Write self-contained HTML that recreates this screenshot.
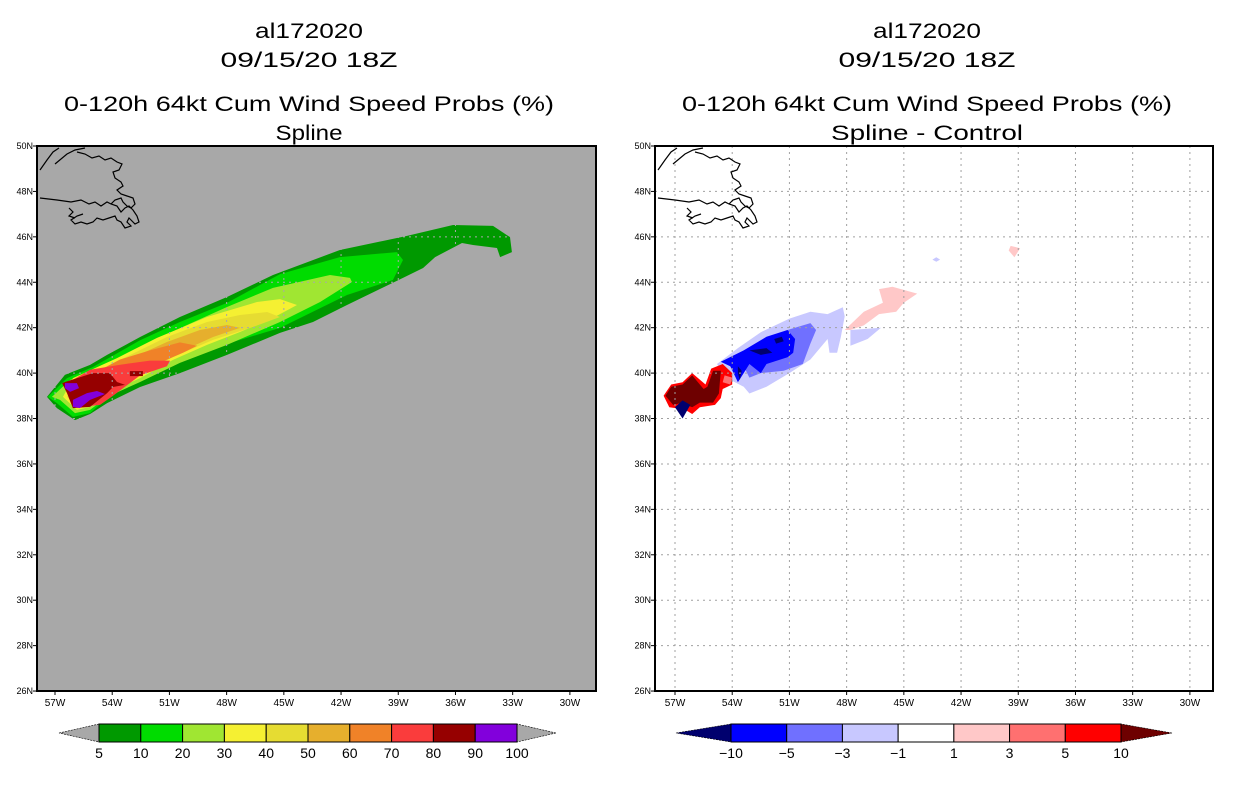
<!DOCTYPE html>
<html><head><meta charset="utf-8"><style>html,body{margin:0;padding:0;background:#fff}svg{display:block}</style></head>
<body>
<svg id="chart" xmlns="http://www.w3.org/2000/svg" width="1236" height="800" viewBox="0 0 1236 800" font-family="'Liberation Sans', sans-serif">
<defs>
<clipPath id="clipL"><rect x="37" y="146" width="559" height="545"/></clipPath>
<clipPath id="clipR"><rect x="655" y="146" width="558" height="545"/></clipPath>
</defs>
<g fill="#000" text-anchor="middle">
<text x="309" y="38" font-size="21" textLength="108" lengthAdjust="spacingAndGlyphs">al172020</text>
<text x="309" y="67" font-size="21" textLength="177" lengthAdjust="spacingAndGlyphs">09/15/20 18Z</text>
<text x="309" y="111" font-size="21" textLength="490" lengthAdjust="spacingAndGlyphs">0-120h 64kt Cum Wind Speed Probs (%)</text>
<text x="309" y="140" font-size="21" textLength="67" lengthAdjust="spacingAndGlyphs">Spline</text>
</g>
<g fill="#000" text-anchor="middle">
<text x="927" y="38" font-size="21" textLength="108" lengthAdjust="spacingAndGlyphs">al172020</text>
<text x="927" y="67" font-size="21" textLength="177" lengthAdjust="spacingAndGlyphs">09/15/20 18Z</text>
<text x="927" y="111" font-size="21" textLength="490" lengthAdjust="spacingAndGlyphs">0-120h 64kt Cum Wind Speed Probs (%)</text>
<text x="927" y="140" font-size="21" textLength="192" lengthAdjust="spacingAndGlyphs">Spline - Control</text>
</g>
<rect x="37" y="146" width="559" height="545" fill="#a8a8a8"/>
<rect x="655" y="146" width="558" height="545" fill="#ffffff"/>
<g id="gL" clip-path="url(#clipL)"></g>
<g id="gR" clip-path="url(#clipR)"></g>
<g id="axes"></g>
<g id="cbars"></g>
</svg>
<script>
const NS="http://www.w3.org/2000/svg";
const latTicks=[50,48,46,44,42,40,38,36,34,32,30,28,26];
const lonTicks=[57,54,51,48,45,42,39,36,33,30];
const probLevels=[5,10,20,30,40,50,60,70,80,90,100];
const probColors=["#009900","#00dc00","#a0e632","#f5f032","#e6dc32","#e6af2d","#f08228","#fa3c3c","#960000","#8200dc"];
const diffLevels=[-10,-5,-3,-1,1,3,5,10];
const diffColors=["#00006e","#0000ff","#7070ff","#c8c8ff","#ffffff","#ffc8c8","#ff7070","#ff0000","#6e0000"];
// left-panel contour polygons [lonW, lat]
const p5=[[57.42,38.95],[56.48,39.92],[55.16,40.36],[54.27,40.80],[52.54,41.59],[50.45,42.47],[47.98,43.35],[45.57,44.32],[42.06,45.42],[38.54,46.04],[36.13,46.52],[34.03,46.48],[33.14,45.99],[33.04,45.33],[33.66,45.11],[33.82,45.51],[35.08,45.64],[35.66,45.73],[37.07,45.11],[37.70,44.63],[38.75,44.19],[41.69,43.00],[43.47,42.25],[45.20,41.77],[47.98,40.80],[50.45,40.00],[52.54,39.39],[54.27,38.68],[55.16,38.20],[55.95,37.93],[56.90,38.46]];
const p10=[[57.37,38.95],[56.37,39.78],[55.01,40.27],[52.54,41.45],[50.45,42.25],[47.98,43.09],[45.20,44.36],[42.06,45.11],[39.07,45.33],[38.75,44.98],[39.28,44.10],[41.69,43.44],[45.20,41.99],[49.03,41.02],[52.54,39.70],[54.27,38.90],[55.16,38.24],[56.06,38.07],[56.90,38.68]];
const p20=[[57.16,38.95],[56.21,39.70],[54.80,40.14],[52.54,41.15],[50.08,42.12],[47.98,42.91],[45.57,43.75],[42.58,44.32],[41.53,44.19],[41.43,44.01],[43.10,43.13],[45.20,42.25],[47.98,41.24],[50.45,40.45],[52.54,39.61],[54.27,38.95],[55.16,38.38],[55.95,38.24],[56.74,38.82]];
const p30=[[56.58,38.95],[56.06,39.78],[53.75,40.66],[51.65,41.55],[49.03,42.47],[46.41,43.13],[45.20,43.26],[44.31,43.00],[45.57,42.43],[47.30,41.81],[49.03,41.24],[50.81,40.58],[52.54,39.78],[54.27,39.12],[55.16,38.51],[55.85,38.38]];
const p40=[[56.37,38.95],[55.95,39.56],[53.59,40.58],[51.13,41.59],[49.03,42.25],[47.30,42.56],[45.88,42.69],[45.20,42.47],[46.62,42.03],[48.71,41.46],[50.81,40.71],[52.54,39.92],[54.27,39.26],[55.16,38.68],[55.85,38.51]];
const p50=[[56.11,39.61],[53.43,40.49],[51.13,41.37],[49.40,41.90],[47.98,42.12],[47.30,41.99],[48.71,41.59],[50.45,40.93],[52.18,40.14],[53.96,39.39],[55.01,38.82],[55.85,38.68],[56.32,39.12]];
const p60=[[56.06,39.61],[54.50,40.20],[53.59,40.60],[52.02,41.00],[50.45,41.35],[49.55,41.20],[50.29,40.90],[51.65,40.40],[53.43,39.70],[54.64,38.95],[55.69,38.73],[56.21,39.17]];
const p70=[[56.06,39.70],[55.16,40.15],[53.75,40.35],[52.02,40.55],[50.97,40.55],[51.13,40.30],[52.54,39.90],[53.96,39.00],[54.64,38.60],[55.85,38.50],[56.32,39.10]];
const p80a=[[56.48,39.61],[55.01,40.00],[54.12,40.00],[53.75,39.61],[53.33,39.48],[53.96,39.39],[54.27,39.12],[55.16,38.51],[56.06,38.46],[56.37,39.12],[56.63,39.56]];
const p80b=[[53.07,40.09],[52.39,40.09],[52.39,39.87],[53.07,39.87]];
const p90a=[[56.48,39.56],[55.85,39.56],[55.74,39.34],[56.21,39.17],[56.48,39.34]];
const p90b=[[56.06,38.82],[55.32,39.12],[54.80,39.21],[54.38,39.08],[55.16,38.82],[55.69,38.46],[56.06,38.51]];
// right-panel difference polygons [lonW, lat]
const dNeg1=[[54.8,40.4],[53.7,41.1],[52.5,41.8],[51.0,42.4],[49.9,42.7],[49.0,42.6],[48.2,42.9],[48.1,42.5],[48.3,41.6],[48.5,40.9],[48.9,40.9],[49.0,41.5],[49.9,40.6],[51.0,40.0],[52.2,39.4],[53.1,39.1],[53.4,39.4],[54.1,39.7],[54.6,40.1]];
const dNeg1b=[[47.8,41.9],[46.2,42.0],[46.9,41.5],[47.8,41.2]];
const dNeg1c=[[43.3,45.1],[43.1,45.0],[43.3,44.9],[43.5,45.0]];
const dNeg3=[[54.6,40.5],[53.2,41.0],[51.7,41.7],[51.1,41.9],[49.9,42.2],[49.6,41.9],[49.9,41.3],[50.3,40.4],[51.3,40.1],[52.5,40.0],[53.1,39.8],[53.4,40.3],[54.1,40.3]];
const dNeg5=[[54.6,40.5],[53.4,41.0],[52.2,41.6],[51.1,41.9],[50.7,41.5],[50.8,40.9],[51.1,40.7],[52.2,40.4],[52.5,40.0],[53.1,40.4],[53.4,40.0],[53.7,39.6],[54.1,40.3]];
const dNeg10a=[[53.1,41.0],[52.2,41.1],[51.9,40.9],[52.5,40.8]];
const dNeg10b=[[51.8,41.5],[51.4,41.6],[51.3,41.4],[51.7,41.3]];
const dNeg10c=[[53.7,40.3],[53.5,40.1],[53.6,39.7],[53.7,40.0]];
const dNeg10d=[[57.0,38.5],[56.6,38.8],[56.2,38.6],[56.6,38.0]];
const dPos1=[[48.1,41.9],[47.1,42.7],[46.1,43.1],[46.3,43.7],[45.6,43.8],[44.3,43.5],[45.0,43.1],[45.4,42.7],[46.3,42.6],[47.1,42.1],[47.8,41.9]];
const dPos1b=[[39.4,45.6],[38.9,45.5],[39.2,45.1],[39.5,45.4]];
const dPos5=[[57.6,39.0],[57.2,39.5],[56.6,39.6],[56.1,40.0],[55.4,39.5],[55.1,40.2],[54.5,40.4],[54.0,40.0],[54.0,39.5],[54.5,39.3],[54.6,38.9],[54.9,38.6],[55.7,38.5],[56.1,38.2],[56.5,38.4],[57.3,38.5]];
const dPos3=[[54.4,39.9],[54.0,39.8],[54.1,39.5],[54.5,39.6]];
const dPos10=[[57.5,39.0],[57.2,39.4],[56.6,39.5],[56.1,39.9],[55.5,39.3],[55.3,39.4],[55.0,40.1],[54.6,40.1],[54.7,39.1],[55.0,38.7],[55.7,38.7],[56.1,38.5],[56.4,38.6],[56.6,38.7],[57.1,38.6]];

const PX=19.07, PY=22.71;
const xL=lon=>55+(57-lon)*PX;
const xR=lon=>675+(57-lon)*PX;
const yM=lat=>146+(50-lat)*PY;
function el(tag,attrs,parent){const e=document.createElementNS(NS,tag);for(const k in attrs)e.setAttribute(k,attrs[k]);parent.appendChild(e);return e;}
function poly(pts,fx,fill,parent,name){
  const p=el('polygon',{points:pts.map(q=>fx(q[0]).toFixed(1)+','+yM(q[1]).toFixed(1)).join(' '),fill:fill},parent);
  
  
}
const gL=document.getElementById('gL'), gR=document.getElementById('gR');
[[p5,0],[p10,1],[p20,2],[p30,3],[p40,4],[p50,5],[p60,6],[p70,7],[p80a,8],[p80b,8],[p90a,9],[p90b,9]].forEach(([pts,i])=>poly(pts,xL,probColors[i],gL,'prob-contour-'+probLevels[i]));
[[dNeg1,3],[dNeg1b,3],[dNeg1c,3],[dPos1,5],[dPos1b,5],[dNeg3,2],[dNeg5,1],[dNeg10a,0],[dNeg10b,0],[dNeg10c,0],[dPos5,7],[dPos3,6],[dPos10,8],[dNeg10d,0]].forEach(([pts,i])=>poly(pts,xR,diffColors[i],gR,'diff-contour-'+i));
function grid(g,fx,x0,x1,col){
  lonTicks.forEach(l=>{const ln=el('line',{x1:fx(l),x2:fx(l),y1:146,y2:691,stroke:col,'stroke-width':1,'stroke-dasharray':'2,4'},g);
    
    });
  latTicks.forEach(l=>{const ln=el('line',{x1:x0,x2:x1,y1:yM(l),y2:yM(l),stroke:col,'stroke-width':1,'stroke-dasharray':'2,4'},g);
    
    });
}
grid(gL,xL,37,596,'#a8a8a8');
grid(gR,xR,655,1213,'#a0a0a0');
const coast=[
 "M3,24 L10,14 L16,6 L22,2","M18,18 L30,8 L38,4 L48,2",
 "M40,6 L48,8 L55,12 L62,10 L68,14 L74,12 L80,16 L85,18 L82,24 L76,26 L78,32 L84,36 L86,40 L80,44 L84,48 L90,50 L96,52 L98,58 L94,62 L90,60 L86,56 L84,52 L78,54 L74,58",
 "M3,52 L20,54 L34,56 L44,54 L52,58 L58,56 L64,60 L70,56 L74,58 L80,60 L84,66 L88,62 L92,60 L96,64 L100,70 L102,76 L98,78 L92,72 L90,76 L94,80 L88,82 L84,76 L80,74 L78,70 L72,72 L66,74 L60,72 L56,76 L50,78 L44,76 L38,78 L34,74 L40,70 L46,68",
 "M32,62 L36,66 L32,70 L38,72"
];
[[37,146],[655,146]].forEach(([ox,oy],k)=>{
  const g=el('g',{transform:`translate(${ox},${oy})`,fill:'none',stroke:'#000','stroke-width':1.2},k?gR:gL);
  
  
  coast.forEach(d=>el('path',{d:d},g));
});
const ax=document.getElementById('axes');
[[37,596,xL],[655,1213,xR]].forEach(([x0,x1,fx],k)=>{
  const f=el('rect',{x:x0,y:146,width:x1-x0,height:545,fill:'none',stroke:'#000','stroke-width':2},ax);
  
  
  latTicks.forEach(l=>{
    el('line',{x1:x0-4,x2:x0,y1:yM(l),y2:yM(l),stroke:'#000','stroke-width':1},ax);
    const t=el('text',{x:x0-4,y:yM(l)+3,'font-size':9,'text-anchor':'end',fill:'#000'},ax);
    t.textContent=l+'N';
    
    
  });
  lonTicks.forEach(l=>{
    el('line',{x1:fx(l),x2:fx(l),y1:691,y2:695,stroke:'#000','stroke-width':1},ax);
    const t=el('text',{x:fx(l),y:706,'font-size':10,'text-anchor':'middle',fill:'#000'},ax);
    t.textContent=l+'W';
    
    
  });
});
const cb=document.getElementById('cbars');
function colorbar(x0,x1,tipL,tipR,colors,labels,name){
  const n=colors.length-2;
  const w=(x1-x0)/n, y0=724,y1=742,ym=733;
  const lt=el('polygon',{points:`${tipL},${ym} ${x0},${y0} ${x0},${y1}`,fill:colors[0],stroke:'#000','stroke-width':0.6,'stroke-dasharray':'2,1'},cb);
  
  
  const rt=el('polygon',{points:`${tipR},${ym} ${x1},${y0} ${x1},${y1}`,fill:colors[colors.length-1],stroke:'#000','stroke-width':0.6,'stroke-dasharray':'2,1'},cb);
  
  
  for(let i=0;i<n;i++){
    const r=el('rect',{x:x0+i*w,y:y0,width:w,height:y1-y0,fill:colors[i+1],stroke:'#000','stroke-width':1},cb);
    
    
  }
  labels.forEach((v,i)=>{
    const t=el('text',{x:x0+i*w,y:758,'font-size':14,'text-anchor':'middle',fill:'#000'},cb);
    t.textContent=String(v).replace('-','\u2212');
    
    
  });
}
colorbar(99,517,59,556,["#a8a8a8"].concat(probColors,["#a8a8a8"]),probLevels,'prob-colorbar');
colorbar(731,1121,676,1172,diffColors,diffLevels,'diff-colorbar');
</script>
</body></html>
